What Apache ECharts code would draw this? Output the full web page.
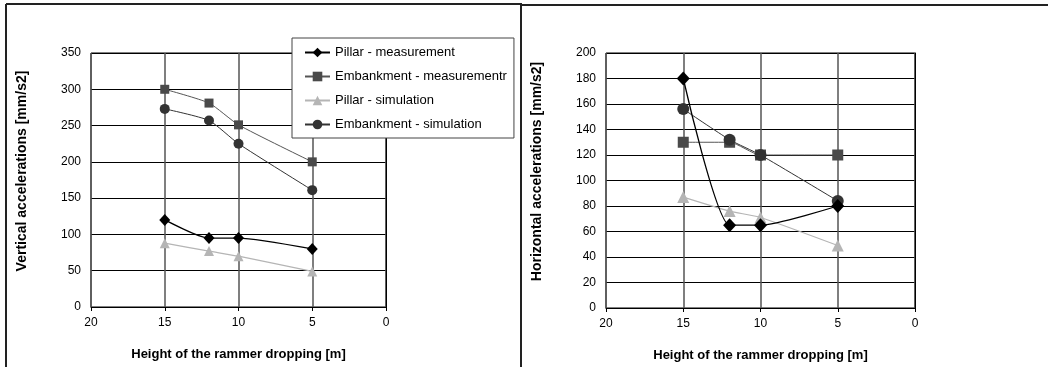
<!DOCTYPE html>
<html>
<head>
<meta charset="utf-8">
<style>
  html, body { margin: 0; padding: 0; background: #fff; }
  #chart { width: 1048px; height: 367px; }
</style>
<script src="https://cdn.jsdelivr.net/npm/echarts@6/dist/echarts.min.js"></script>
</head>
<body>
<div id="chart"></div>
<script>
// dropping heights [m]
const heights = [15, 12, 10, 5];

// vertical accelerations [mm/s2]
const vertPillarMeas = [120, 95, 95, 80];
const vertEmbMeas = [300, 281, 251, 200];
const vertPillarSim = [88, 77, 70, 49];
const vertEmbSim = [273, 257, 225, 161];

// horizontal accelerations [mm/s2]
const horPillarMeas = [180, 65, 65, 80];
const horEmbMeas = [130, 130, 120, 120];
const horPillarSim = [87, 76, 71, 49];
const horEmbSim = [156, 132, 120, 84];

const names = ['Pillar - measurement', 'Embankment - measurementr', 'Pillar - simulation', 'Embankment - simulation'];

const font = 'Liberation Sans, Arial, sans-serif';

const pairs = (vals) => heights.map((h, i) => [h, vals[i]]);

const makeX = (gridIndex) => ({
    gridIndex: gridIndex,
    type: 'value',
    min: 0,
    max: 20,
    interval: 5,
    inverse: true,
    name: 'Height of the rammer dropping [m]',
    nameLocation: 'middle',
    nameGap: 41,
    nameTextStyle: { fontFamily: font, fontWeight: 'bold', fontSize: 13, color: '#000' },
    axisLine: { show: true, lineStyle: { color: '#000', width: 1 } },
    axisTick: { show: true, length: 4, lineStyle: { color: '#000' } },
    axisLabel: { fontFamily: font, fontSize: 12, color: '#000', margin: 10 },
    splitLine: { show: true, lineStyle: { color: '#555', width: 1.5 } }
});

const makeY = (gridIndex, max, interval, title) => ({
    gridIndex: gridIndex,
    type: 'value',
    min: 0,
    max: max,
    interval: interval,
    name: title,
    nameLocation: 'middle',
    nameGap: 62,
    nameTextStyle: { fontFamily: font, fontWeight: 'bold', fontSize: 14, color: '#000', padding: [0, 0, 0, 18] },
    axisLine: { show: true, lineStyle: { color: '#000', width: 1 } },
    axisTick: { show: false },
    axisLabel: { fontFamily: font, fontSize: 12, color: '#000', margin: 10 },
    splitLine: { show: true, lineStyle: { color: '#000', width: 1 } }
});

const styles = [
    { symbol: 'diamond', size: [11, 12], color: '#000', line: '#000', width: 1.3 },
    { symbol: 'rect', size: 9, color: '#4a4a4a', line: '#555', width: 1 },
    { symbol: 'triangle', size: 10, color: '#b5b5b5', line: '#b5b5b5', width: 1.2 },
    { symbol: 'circle', size: 10, color: '#333', line: '#333', width: 1 }
];

const makeSeries = (idx, data, k, big) => ({
    name: names[k],
    type: 'line',
    xAxisIndex: idx,
    yAxisIndex: idx,
    data: pairs(data),
    smooth: 0.2,
    symbol: styles[k].symbol,
    symbolSize: big ? (Array.isArray(styles[k].size) ? [13, 14] : styles[k].size + 2) : styles[k].size,
    itemStyle: { color: styles[k].color },
    lineStyle: { color: styles[k].line, width: styles[k].width },
    z: k === 0 ? 5 : 3
});

const frameLine = (x1, y1, x2, y2) => ({
    type: 'line',
    shape: { x1: x1, y1: y1, x2: x2, y2: y2 },
    style: { stroke: '#222', lineWidth: 2 },
    z: 100
});

const chart = echarts.init(document.getElementById('chart'));
chart.setOption({
    animation: false,
    backgroundColor: '#fff',
    textStyle: { fontFamily: font },
    grid: [
        { left: 91, top: 53, width: 295, height: 254, show: true, borderColor: '#000', borderWidth: 1 },
        { left: 606, top: 53, width: 309, height: 256, show: true, borderColor: '#000', borderWidth: 1 }
    ],
    legend: {
        orient: 'vertical',
        left: 292,
        top: 38,
        data: names,
        itemWidth: 25,
        itemHeight: 12,
        itemGap: 11,
        padding: [8, 7, 7, 12],
        backgroundColor: '#fff',
        borderColor: '#444',
        borderWidth: 1,
        textStyle: { fontFamily: font, fontSize: 13, color: '#000' },
        z: 20
    },
    xAxis: [makeX(0), makeX(1)],
    yAxis: [
        makeY(0, 350, 50, 'Vertical accelerations [mm/s2]'),
        makeY(1, 200, 20, 'Horizontal accelerations [mm/s2]')
    ],
    series: [
        makeSeries(0, vertPillarMeas, 0, false),
        makeSeries(0, vertEmbMeas, 1, false),
        makeSeries(0, vertPillarSim, 2, false),
        makeSeries(0, vertEmbSim, 3, false),
        makeSeries(1, horPillarMeas, 0, true),
        makeSeries(1, horEmbMeas, 1, true),
        makeSeries(1, horPillarSim, 2, true),
        makeSeries(1, horEmbSim, 3, true)
    ],
    graphic: [
        frameLine(6, 4, 522, 4),
        frameLine(6, 4, 6, 367),
        frameLine(521, 4, 521, 367),
        frameLine(521, 5, 1048, 5)
    ]
});
</script>
</body>
</html>
